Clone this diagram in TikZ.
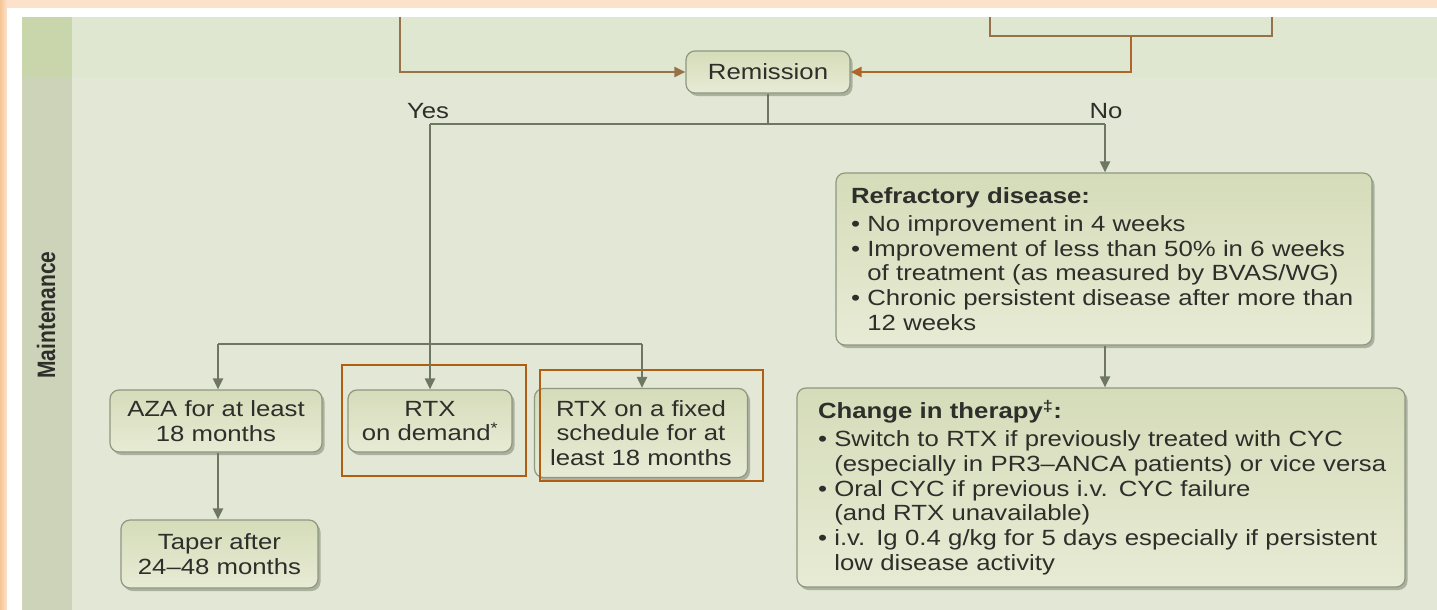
\documentclass[tikz,border=0pt]{standalone}
\usepackage{fontspec}
\setmainfont{Liberation Sans}[FakeStretch=1.17]
\newfontfamily\plainfont{Liberation Sans}
\usetikzlibrary{arrows.meta,shadows}
\definecolor{peach}{HTML}{FCE2CB}
\definecolor{peachdeep}{HTML}{F6C596}
\definecolor{side}{HTML}{CDD3B8}
\definecolor{sidetop}{HTML}{C9D5AA}
\definecolor{panel}{HTML}{E3E7D6}
\definecolor{paneltop}{HTML}{E0E7D0}
\definecolor{boxline}{HTML}{8E9880}
\definecolor{boxtop}{HTML}{D5DCB9}
\definecolor{boxbot}{HTML}{E8EBD5}
\definecolor{shadowc}{HTML}{7E8670}
\definecolor{txt}{HTML}{2E2E2A}
\definecolor{lnc}{HTML}{6E7762}
\definecolor{brn}{HTML}{957248}
\definecolor{org}{HTML}{B0652A}
\definecolor{hlc}{HTML}{B05F12}
\tikzset{
  box/.style={draw=boxline, line width=1.2pt, rounded corners=9pt,
    top color=boxtop, bottom color=boxbot,
    drop shadow={shadow xshift=2.5pt, shadow yshift=-3pt, fill=shadowc, opacity=0.55},
    text=txt, align=center, inner sep=0pt, font=\fontsize{22}{24.4}\selectfont},
  listbox/.style={box, align=left, font=\fontsize{22}{24.7}\selectfont},
  conn/.style={draw=lnc, line width=2pt},
  arr/.style={conn, -{Triangle[length=11pt,width=10pt]}},
  hl/.style={draw=hlc, line width=2.5pt, inner sep=0pt},
  lbl/.style={text=txt, font=\fontsize{22}{24.4}\selectfont, inner sep=0pt}
}
\begin{document}
\begin{tikzpicture}[x=1pt,y=-1pt]
\useasboundingbox (0,0) rectangle (1437,610);
% background
\fill[peach] (0,0) rectangle (1437,610);
\shade[left color=peachdeep, right color=peach] (0,0) rectangle (7,610);
\fill[white] (7,8) rectangle (1437,610);
\fill[side] (22,17) rectangle (72,610);
\fill[sidetop] (22,17) rectangle (72,77);
\fill[panel] (72,17) rectangle (1437,610);
\fill[paneltop] (72,17) rectangle (1437,77);
\node[rotate=90, text=txt, inner sep=0pt] (mlabel) at (46,315)
  {\scalebox{1}[1.2]{\plainfont\bfseries\fontsize{21}{24}\selectfont Maintenance}};

% nodes
\node[box, minimum width=164pt, minimum height=42pt] (rem) at (768,72) {Remission};
\node[listbox, minimum width=536pt, minimum height=172pt, text width=506pt] (refr) at (1104,259)
  {\textbf{Refractory disease:}\\[3pt]
   \textbullet\ No improvement in 4 weeks\\
   \textbullet\ Improvement of less than 50\% in 6 weeks\\
   \hphantom{\textbullet\ }of treatment (as measured by BVAS/WG)\\
   \textbullet\ Chronic persistent disease after more than\\
   \hphantom{\textbullet\ }12 weeks};
\node[listbox, minimum width=608pt, minimum height=199pt, text width=566pt] (chg) at (1101,487.5)
  {\textbf{Change in therapy\textsuperscript{‡}:}\\[3pt]
   \textbullet\ Switch to RTX if previously treated with CYC\\
   \mbox{\hphantom{\textbullet\ }(especially in PR3–ANCA patients) or vice versa}\\
   \textbullet\ Oral CYC if previous i.v. CYC failure\\
   \hphantom{\textbullet\ }(and RTX unavailable)\\
   \textbullet\ i.v. Ig 0.4 g/kg for 5 days especially if persistent\\
   \hphantom{\textbullet\ }low disease activity};
\node[box, minimum width=212pt, minimum height=62pt] (aza) at (216,421) {AZA for at least\\18 months};
\node[box, minimum width=164pt, minimum height=62pt] (rtxd) at (430,421) {RTX\\on demand\textsuperscript{*}};
\node[box, minimum width=213pt, minimum height=89pt] (rtxf) at (641,433) {RTX on a fixed\\schedule for at\\least 18 months};
\node[box, minimum width=197pt, minimum height=68pt] (taper) at (219.5,554) {Taper after\\24–48 months};

% highlight frames
\node[hl, minimum width=184pt, minimum height=111pt] (hl1) at (434,420.5) {};
\node[hl, minimum width=223pt, minimum height=111pt] (hl2) at (651.5,425.5) {};

% labels
\node[lbl] (yes) at (428,111) {Yes};
\node[lbl] (no) at (1106,111) {No};

% top connectors
\coordinate (tl) at (400,17);
\coordinate (tb1) at (990,17);
\coordinate (tb2) at (1272,17);
\coordinate (tbm) at (1131,36);
\draw[brn, line width=2pt, -{Triangle[length=11pt,width=10pt]}] (tl) |- (rem.west);
\draw[brn, line width=2pt] (tb1) |- (tb2 |- tbm) -- (tb2);
\draw[org, line width=2pt, -{Triangle[length=11pt,width=10pt]}] (tbm) |- (rem.east);

% decision connectors
\coordinate (jc) at (768,124);
\coordinate (jl) at (430,124);
\coordinate (jr) at (1105,124);
\coordinate (bl) at (218,344);
\coordinate (br) at (642,344);
\draw[conn] (rem.south) -- (jc);
\draw[conn] (jl) -- (jr);
\draw[arr] (jl) -- (rtxd.north);
\draw[conn] (bl) -- (br);
\draw[arr] (bl) -- (bl |- aza.north);
\draw[arr] (br) -- (br |- rtxf.north);
\draw[arr] (jr) -- (jr |- refr.north);
\draw[arr] (jr |- refr.south) -- (jr |- chg.north);
\draw[arr] (aza.south -| bl) -- (bl |- taper.north);
\end{tikzpicture}
\end{document}
